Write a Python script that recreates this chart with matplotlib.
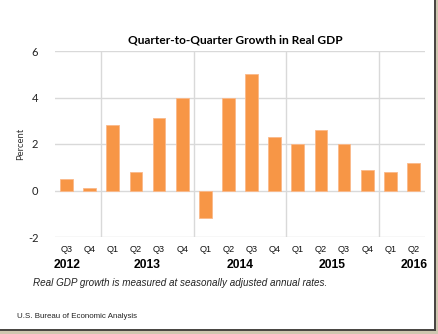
import matplotlib
matplotlib.use("Agg")
import matplotlib.pyplot as plt
from matplotlib.patches import Rectangle

quarters = ["Q3", "Q4", "Q1", "Q2", "Q3", "Q4", "Q1", "Q2", "Q3", "Q4",
            "Q1", "Q2", "Q3", "Q4", "Q1", "Q2"]
growth = [0.5, 0.1, 2.8, 0.8, 3.1, 4.0, -1.2, 4.0, 5.0, 2.3,
          2.0, 2.6, 2.0, 0.9, 0.8, 1.2]
years = ["2012", "2013", "2014", "2015", "2016"]
year_spans = [(0, 1), (2, 5), (6, 9), (10, 13), (14, 15)]
yticks = [-2, 0, 2, 4, 6]

W, H = 439, 334
fig = plt.figure(figsize=(W / 100, H / 100), dpi=100)
fig.patch.set_facecolor("white")

# frame with drop shadow on the right and bottom
fig.patches.append(Rectangle((434 / W, 0), 5 / W, 1, transform=fig.transFigure,
                             facecolor="#cfc6b0", edgecolor="none", zorder=0))
fig.patches.append(Rectangle((0, 0), 1, 4 / H, transform=fig.transFigure,
                             facecolor="#cfc6b0", edgecolor="none", zorder=0))
fig.patches.append(Rectangle((434 / W, 3 / H), 2.5 / W, 1 - 3 / H, transform=fig.transFigure,
                             facecolor="#4a4744", edgecolor="none", zorder=1))
fig.patches.append(Rectangle((0, 3 / H), 436.5 / W, 2.5 / H, transform=fig.transFigure,
                             facecolor="#4a4744", edgecolor="none", zorder=1))

ax = fig.add_axes([55 / W, 97 / H, 370 / W, 186 / H])
x = list(range(len(growth)))
ax.bar(x, growth, width=0.55, color="#f79646", edgecolor="#fbb98a", linewidth=0.6, zorder=3)

ax.set_xlim(-0.5, len(growth) - 0.5)
ax.set_ylim(-2, 6)
ax.set_yticks(yticks)
ax.set_yticklabels([str(t) for t in yticks], fontsize=8, family="Lato", color="#222222")
ax.yaxis.grid(True, color="#d9d9d9", linewidth=1.0, zorder=0)
ax.tick_params(axis="y", length=0, pad=12)
ax.tick_params(axis="x", length=0)
ax.set_xticks([])
for s in ax.spines.values():
    s.set_visible(False)

# year separators
for start, end in year_spans[1:]:
    ax.axvline(start - 0.5, color="#d9d9d9", linewidth=1.0, zorder=1)

ax.set_ylabel("Percent", fontsize=6.8, family="Lato", color="#333333", labelpad=2)

for xi, q in zip(x, quarters):
    ax.text(xi, -2.55, q, ha="center", va="center", fontsize=6.6,
            family="Liberation Sans", color="#111111")

for i, (yr, (start, end)) in enumerate(zip(years, year_spans)):
    if i == 0:
        xp, ha = -0.55, "left"
    elif i == len(years) - 1:
        xp, ha = end + 0.6, "right"
    else:
        xp, ha = (start + end) / 2, "center"
    ax.text(xp, -3.2, yr, ha=ha, va="center", fontsize=8.7, fontweight="bold",
            family="Liberation Sans", color="black")

fig.text(235 / W, 1 - 40 / H, "Quarter-to-Quarter Growth in Real GDP", ha="center",
         va="center", fontsize=8.6, fontweight="bold", family="Lato", color="black")
fig.text(33 / W, 1 - 283 / H, "Real GDP growth is measured at seasonally adjusted annual rates.",
         ha="left", va="center", fontsize=7.1, style="italic", family="Liberation Sans",
         color="#222222")
fig.text(17 / W, 1 - 317 / H, "U.S. Bureau of Economic Analysis", ha="left", va="center",
         fontsize=5.7, family="Liberation Sans", color="#222222")

fig.savefig("out.png", dpi=100)
